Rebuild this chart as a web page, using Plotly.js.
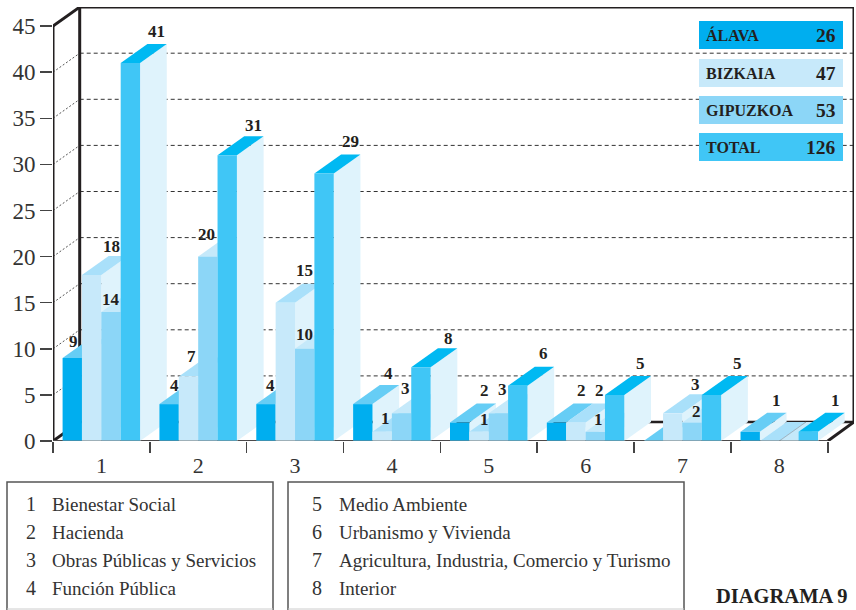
<!DOCTYPE html>
<html><head><meta charset="utf-8">
<script src="https://cdn.plot.ly/plotly-3.0.1.min.js"></script>
<style>html,body{margin:0;padding:0;background:#fff;overflow:hidden}#c{width:856px;height:610px}</style>
</head><body><div id="c"></div>
<script>
// ---- data ----
const categories = ['1','2','3','4','5','6','7','8'];
const alava    = [9,4,4,4,2,2,0,1];
const bizkaia  = [18,7,15,1,1,2,3,0];
const gipuzkoa = [14,20,10,3,3,1,2,0];
const total    = [41,31,29,8,6,5,5,1];
const yTicks   = [0,5,10,15,20,25,30,35,40,45];
const gridVals = [5,10,15,20,25,30,35,40];
const legendNames  = ['ÁLAVA','BIZKAIA','GIPUZKOA','TOTAL'];
const legendTotals = [26,47,53,126];
const leftNames  = ['Bienestar Social','Hacienda','Obras Públicas y Servicios','Función Pública'];
const rightNames = ['Medio Ambiente','Urbanismo y Vivienda','Agricultura, Industria, Comercio y Turismo','Interior'];

// ---- styles / geometry ----
const series = [
  {name:'ÁLAVA',   v:alava,    front:'#00AEEF', top:'#66CDF5', side:'#DFF3FC'},
  {name:'BIZKAIA', v:bizkaia,  front:'#C7E9FA', top:'#A9E0FA', side:'#DFF3FC'},
  {name:'GIPUZKOA',v:gipuzkoa, front:'#8CD6F7', top:'#C5E9FA', side:'#DFF3FC'},
  {name:'TOTAL',   v:total,    front:'#40C6F6', top:'#00B9F2', side:'#DFF3FC'}
];
const L=53,T=7,W=801,H=434,B=441;
const DX=0.2757, DY=2.06, OFF=0.099, BW=0.2, XMAX=8.2707, YMAX=47.07;
// label centre offsets in pixels from the bar's front-top centre
const labelDx = [[1,20,0,26],[5,3,-1,26],[5,19,0,26],[26,3,4,28],[25,5,4,26],[25,24,3,26],[0,23,4,26],[26,0,0,27]];
const labelDy = [[17,29,12,31],[19,20,22,30],[19,32,14,32],[31,13,25,29],[32,12,24,32],[32,32,12,31],[0,29,11,31],[31,0,0,31]];
const px = p=>(p-L)/W, py = p=>(B-p)/H;
const ink='#231F20', SERIF='"Liberation Serif",serif';

const traces=[];
const line=(x,y,color,width,dash,name)=>traces.push({type:'scatter',mode:'lines',x,y,name:name||'',cliponaxis:false,hoverinfo:'skip',showlegend:false,line:{color,width,dash:dash||'solid'}});
const poly=(x,y,color,name)=>traces.push({type:'scatter',mode:'lines',x,y,name,fill:'toself',fillcolor:color,cliponaxis:false,hoverinfo:'skip',showlegend:false,line:{width:0,color}});

// walls and grid
gridVals.forEach(g=>{
  line([0,DX],[g,g+DY],'#555',1,'2px,2px');
  line([DX,XMAX],[g+DY,g+DY],'#333',1,'4px,3px');
});
line([DX,DX],[DY,45+DY],ink,3);
line([DX,XMAX],[45+DY,45+DY],ink,3);
line([XMAX,XMAX],[DY,45+DY],ink,3);
line([DX,XMAX],[DY,DY],ink,2.5);
line([0,DX],[45,45+DY],ink,3);
line([0,DX],[0,DY],ink,3);
line([8,XMAX],[0,DY],ink,3);
line([0,8],[0,0],ink,2);
line([0,0],[0,45],ink,3);

// bars, left to right
const anns=[];
categories.forEach((c,g)=>{
  series.forEach((s,i)=>{
    const v=s.v[g], x0=g+OFF+i*BW, x1=x0+BW;
    if(v>0) poly([x1,x1+DX,x1+DX,x1,x1],[0,DY,v+DY,v,0],s.side,s.name+' '+c);
    poly([x0,x1,x1+DX,x0+DX,x0],[v,v,v+DY,v+DY,v],s.top,s.name+' '+c);
    if(v>0) poly([x0,x1,x1,x0,x0],[0,0,v,v,0],s.front,s.name+' '+c);
    if(v===0 && g===7 && i===2) line([x0,x0+DX],[0,DY],'#8a9aa5',0.7);
    if(v>0) anns.push({x:(x0+x1)/2,y:v,xref:'x',yref:'y',text:String(v),showarrow:false,
      xanchor:'center',yanchor:'middle',xshift:labelDx[g][i],yshift:labelDy[g][i],
      font:{family:SERIF,size:17,color:ink,weight:700}});
  });
});
line([0,8],[0,0],'#777',1);

// legend and boxes
const shapes=[];
const rect=(x0,y0,x1,y1,fill)=>shapes.push({type:'rect',xref:'paper',yref:'paper',x0:px(x0),x1:px(x1),y0:py(y0),y1:py(y1),fillcolor:fill,line:{width:0},layer:'above'});
const legY=[[21,49],[59,87],[96,124],[133,161]];
series.forEach((s,i)=>{
  rect(699,legY[i][0],843,legY[i][1],s.front);
  const mid=(legY[i][0]+legY[i][1])/2;
  anns.push({xref:'paper',yref:'paper',x:px(704),y:py(mid),xanchor:'left',yanchor:'middle',showarrow:false,text:legendNames[i],font:{family:SERIF,size:16,color:ink,weight:700}});
  anns.push({xref:'paper',yref:'paper',x:px(838),y:py(mid),xanchor:'right',yanchor:'middle',showarrow:false,text:String(legendTotals[i]),font:{family:SERIF,size:19.5,color:ink,weight:700}});
});
const box=(x0,x1)=>{
  shapes.push({type:'path',xref:'paper',yref:'paper',layer:'above',
    path:`M${px(x0)},${py(610)} L${px(x0)},${py(482)} L${px(x1)},${py(482)} L${px(x1)},${py(610)}`,
    line:{color:'#555',width:1.5}});
  shapes.push({type:'line',xref:'paper',yref:'paper',layer:'above',x0:px(x0),x1:px(x1),y0:py(609),y1:py(609),line:{color:'#ccc',width:1}});
};
box(7,273); box(288,684);
const rowY=[504,532,560,588];
const listRow=(num,name,xn,xt,y)=>{
  anns.push({xref:'paper',yref:'paper',x:px(xn),y:py(y),xanchor:'center',yanchor:'middle',showarrow:false,text:String(num),font:{family:SERIF,size:20,color:'#333'}});
  anns.push({xref:'paper',yref:'paper',x:px(xt),y:py(y),xanchor:'left',yanchor:'middle',showarrow:false,text:name,font:{family:SERIF,size:19,color:'#333'}});
};
leftNames.forEach((n,i)=>listRow(i+1,n,31,50,rowY[i]));
rightNames.forEach((n,i)=>listRow(i+5,n,317,337,rowY[i]));
anns.push({xref:'paper',yref:'paper',x:px(714),y:py(596),xanchor:'left',yanchor:'middle',showarrow:false,text:'DIAGRAMA 9',font:{family:SERIF,size:20.5,color:ink,weight:700}});

Plotly.newPlot('c',traces,{
  width:856,height:610,margin:{l:L,r:856-L-W,t:T,b:610-B,pad:0},
  paper_bgcolor:'#fff',plot_bgcolor:'#fff',showlegend:false,
  xaxis:{range:[0,XMAX],showgrid:false,zeroline:false,showline:false,
    tickmode:'array',tickvals:categories.map((c,i)=>i+0.5),ticktext:categories,
    ticks:'outside',ticklen:5,tickcolor:'rgba(0,0,0,0)',
    tickfont:{family:SERIF,size:22,color:'#333'},
    minor:{tickmode:'array',tickvals:[0,1,2,3,4,5,6,7,8],ticks:'outside',ticklen:11,tickcolor:'#444',tickwidth:1.5,showgrid:false}},
  yaxis:{range:[0,YMAX],showgrid:false,zeroline:false,showline:false,
    tickmode:'array',tickvals:yTicks,ticks:'outside',ticklen:12,tickcolor:'#444',tickwidth:1.5,
    tickfont:{family:SERIF,size:23,color:'#333'}},
  shapes,annotations:anns
},{displayModeBar:false,staticPlot:true});
</script></body></html>
